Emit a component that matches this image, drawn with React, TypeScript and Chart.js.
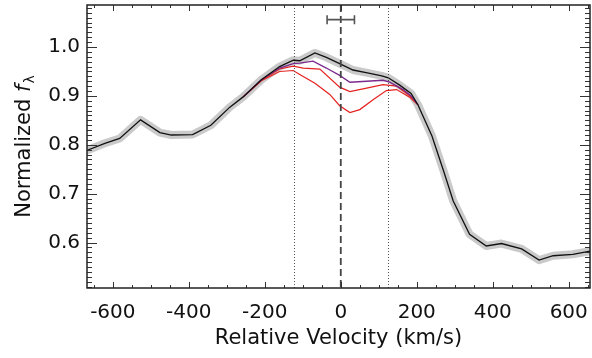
import React, { useEffect, useRef } from "react";
import { Chart, registerables } from "chart.js";
Chart.register(...registerables);

// Relative velocity (km/s) and normalized flux of the observed (black) profile
const blackV = [-670, -621, -582, -527, -476, -446, -390, -342, -292, -257, -209, -161, -125, -108, -68, -38, -3, 32, 70, 108, 125, 155, 185, 203, 240, 270, 296, 339, 383, 423, 476, 522, 559, 611, 660];
const blackF = [0.788, 0.803, 0.813, 0.851, 0.825, 0.820, 0.821, 0.840, 0.877, 0.898, 0.933, 0.960, 0.973, 0.972, 0.988, 0.979, 0.966, 0.953, 0.947, 0.941, 0.937, 0.922, 0.905, 0.882, 0.818, 0.748, 0.685, 0.617, 0.593, 0.598, 0.587, 0.564, 0.573, 0.576, 0.583];

// Model profiles (purple and red) in the perturbed region
const purpleV = [-257, -209, -161, -125, -108, -73, -38, -3, 24, 68, 111, 129, 164, 185, 203];
const purpleF = [0.898, 0.933, 0.957, 0.966, 0.967, 0.971, 0.957, 0.942, 0.928, 0.930, 0.932, 0.928, 0.913, 0.900, 0.882];

const red2V = [-257, -209, -161, -125, -99, -55, -3, 24, 68, 111, 147, 182, 203];
const red2F = [0.898, 0.932, 0.955, 0.961, 0.957, 0.955, 0.918, 0.909, 0.916, 0.923, 0.920, 0.900, 0.882];

const red3V = [-257, -209, -161, -125, -108, -68, -29, -3, 24, 50, 85, 120, 147, 182, 203];
const red3F = [0.898, 0.931, 0.950, 0.952, 0.944, 0.926, 0.903, 0.880, 0.866, 0.872, 0.892, 0.911, 0.913, 0.897, 0.882];

// Reference markers
const dottedV = [-124, 124];
const dashedV = [0];
const errCenter = 0;
const errHalf = 36;
const errF = 1.056;

const xMin = -668;
const xMax = 656;
const yMin = 0.507;
const yMax = 1.086;

const FONT = "'DejaVu Sans', sans-serif";

const pts = (v: number[], f: number[]) => v.map((x, i) => ({ x, y: f[i] }));

const overlay = {
  id: "overlay",
  afterDatasetsDraw(chart: any) {
    const { ctx, chartArea: a, scales } = chart;
    const x = scales.x;
    const y = scales.y;
    ctx.save();
    // dotted lines
    ctx.strokeStyle = "#555";
    ctx.lineWidth = 1;
    ctx.setLineDash([1, 2]);
    dottedV.forEach((v) => {
      const px = Math.round(x.getPixelForValue(v)) + 0.5;
      ctx.beginPath();
      ctx.moveTo(px, a.top);
      ctx.lineTo(px, a.bottom);
      ctx.stroke();
    });
    // dashed line
    ctx.strokeStyle = "#444";
    ctx.lineWidth = 1.8;
    ctx.setLineDash([7, 4]);
    dashedV.forEach((v) => {
      const px = x.getPixelForValue(v);
      ctx.beginPath();
      ctx.moveTo(px, a.top);
      ctx.lineTo(px, a.bottom);
      ctx.stroke();
    });
    ctx.setLineDash([]);
    // error bar
    ctx.strokeStyle = "#555";
    ctx.lineWidth = 1.6;
    const ey = y.getPixelForValue(errF);
    const e1 = x.getPixelForValue(errCenter - errHalf);
    const e2 = x.getPixelForValue(errCenter + errHalf);
    ctx.beginPath();
    ctx.moveTo(e1, ey);
    ctx.lineTo(e2, ey);
    ctx.moveTo(e1, ey - 4.5);
    ctx.lineTo(e1, ey + 4.5);
    ctx.moveTo(e2, ey - 4.5);
    ctx.lineTo(e2, ey + 4.5);
    ctx.stroke();

    // ticks
    ctx.strokeStyle = "#333";
    ctx.lineWidth = 1;
    ctx.beginPath();
    for (let k = Math.ceil(xMin / 50); k <= Math.floor(xMax / 50); k++) {
      const v = k * 50;
      const px = Math.round(x.getPixelForValue(v)) + 0.5;
      const len = v % 200 === 0 ? 6 : 3;
      ctx.moveTo(px, a.bottom);
      ctx.lineTo(px, a.bottom - len);
      ctx.moveTo(px, a.top);
      ctx.lineTo(px, a.top + len);
    }
    for (let k = Math.ceil(yMin * 100); k <= Math.floor(yMax * 100); k++) {
      const py = Math.round(y.getPixelForValue(k / 100)) + 0.5;
      const len = k % 10 === 0 ? 10 : 5;
      ctx.moveTo(a.left, py);
      ctx.lineTo(a.left + len, py);
      ctx.moveTo(a.right, py);
      ctx.lineTo(a.right - len, py);
    }
    ctx.stroke();
    // frame
    ctx.lineWidth = 1.5;
    ctx.strokeStyle = "#222";
    ctx.strokeRect(a.left, a.top, a.right - a.left, a.bottom - a.top);

    // y title: Normalized f_lambda
    const size = 21;
    const fontN = `${size}px ${FONT}`;
    const fontI = `italic ${size}px ${FONT}`;
    const fontS = `${Math.round(size * 0.68)}px ${FONT}`;
    ctx.font = fontN;
    const t1 = "Normalized ";
    const w1 = ctx.measureText(t1).width;
    ctx.font = fontI;
    const w2 = ctx.measureText("f").width + 1;
    ctx.font = fontS;
    const w3 = ctx.measureText("λ").width;
    const total = w1 + w2 + w3;
    const cx = 30;
    const cy = (a.top + a.bottom) / 2;
    ctx.translate(cx, cy);
    ctx.rotate(-Math.PI / 2);
    ctx.fillStyle = "#111";
    ctx.textBaseline = "alphabetic";
    ctx.textAlign = "left";
    let sx = -total / 2;
    ctx.font = fontN;
    ctx.fillText(t1, sx, 0);
    sx += w1;
    ctx.font = fontI;
    ctx.fillText("f", sx, 0);
    sx += w2;
    ctx.font = fontS;
    ctx.fillText("λ", sx, 4);
    ctx.restore();
  },
};

export default function App() {
  const ref = useRef<HTMLCanvasElement>(null);
  useEffect(() => {
    const canvas = ref.current;
    if (!canvas) return;
    const chart = new Chart(canvas, {
      type: "line",
      data: {
        datasets: [
          { data: pts(blackV, blackF), borderColor: "#111", borderWidth: 1.3, pointRadius: 0, order: 0, tension: 0 },
          { data: pts(purpleV, purpleF), borderColor: "#7a2a8c", borderWidth: 1.3, pointRadius: 0, order: 1, tension: 0 },
          { data: pts(red2V, red2F), borderColor: "#e3221f", borderWidth: 1.2, pointRadius: 0, order: 2, tension: 0 },
          { data: pts(red3V, red3F), borderColor: "#e3221f", borderWidth: 1.2, pointRadius: 0, order: 3, tension: 0 },
          { data: pts(blackV, blackF), borderColor: "#cacaca", borderWidth: 8, pointRadius: 0, order: 4, tension: 0, borderJoinStyle: "round", borderCapStyle: "round" },
        ],
      },
      options: {
        responsive: false,
        animation: false,
        devicePixelRatio: 1,
        layout: { padding: { top: 5, right: 2, left: 0, bottom: 0 } },
        plugins: { legend: { display: false }, tooltip: { enabled: false } },
        scales: {
          x: {
            type: "linear",
            min: xMin,
            max: xMax,
            grid: { display: false, drawTicks: false },
            border: { display: false },
            ticks: {
              stepSize: 200,
              includeBounds: false,
              padding: 13,
              color: "#111",
              font: { family: FONT, size: 20 },
              maxRotation: 0,
              callback: (v: any) => String(v),
            },
            title: {
              display: true,
              text: "Relative Velocity (km/s)",
              color: "#111",
              font: { family: FONT, size: 21 },
              padding: { top: 0, bottom: 7 },
            },
            afterFit: (s: any) => {
              s.height = 70;
              s.paddingLeft = 0;
              s.paddingRight = 0;
            },
          },
          y: {
            type: "linear",
            min: yMin,
            max: yMax,
            grid: { display: false, drawTicks: false },
            border: { display: false },
            ticks: {
              stepSize: 0.1,
              includeBounds: false,
              padding: 7,
              color: "#111",
              font: { family: FONT, size: 20 },
              callback: (v: any) => Number(v).toFixed(1),
            },
            afterFit: (s: any) => {
              s.width = 87;
              s.paddingTop = 0;
              s.paddingBottom = 0;
            },
          },
        },
      },
      plugins: [overlay],
    });
    return () => chart.destroy();
  }, []);
  return (
    <div style={{ position: "absolute", left: 0, top: 0, width: 592, height: 358, background: "#fff" }}>
      <canvas ref={ref} width={592} height={358} style={{ display: "block" }} />
    </div>
  );
}
